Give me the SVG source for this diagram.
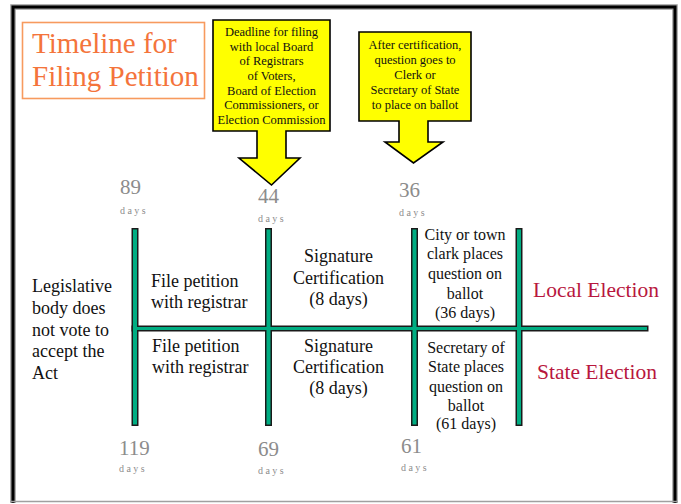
<svg xmlns="http://www.w3.org/2000/svg" width="681" height="504" viewBox="0 0 681 504" font-family="'Liberation Serif', Tinos, 'Times New Roman', Times, 'DejaVu Serif', serif">
<style>
text{font-family:'Liberation Serif', Tinos, 'Times New Roman', Times, 'DejaVu Serif', serif;}
.cell{font-size:18px;fill:#111;}
.small{font-size:16px;fill:#111;}
.note{font-size:12.5px;fill:#111;}
.num{font-size:21px;fill:#8c8c8c;}
.days{font-size:10px;fill:#8c8c8c;letter-spacing:2.4px;}
.elec{font-size:21.5px;fill:#b8173e;}
.callout{fill:#ffff00;stroke:#000;stroke-width:1.6;stroke-linejoin:miter;}
.barout{fill:#1a1a1a;}
.barin{fill:#00ad82;}
</style>
<rect x="0" y="0" width="681" height="504" fill="#fff"/>
<g id="frame">
<path d="M13,503 V7 H675 V503" fill="none" stroke="#9a9a9a" stroke-width="5.5"/>
<path d="M13,503 V7 H675 V503" fill="none" stroke="#000" stroke-width="3"/>
<line x1="10" y1="501.5" x2="678" y2="501.5" stroke="#a0a0a0" stroke-width="1.5"/>
</g>
<g id="title">
<rect x="22.5" y="22.5" width="182" height="76" fill="#fff" stroke="#f79a5e" stroke-width="1.6"/>
<text x="32" y="53" font-size="29" fill="#f4743b">Timeline for</text>
<text x="32" y="86" font-size="29" fill="#f4743b">Filing Petition</text>
</g>
<g id="callout-deadline">
<path class="callout" d="M213,20 H330 V131 H286 V158 H300 L271.5,185 L239,158 H257 V131 H213 Z"/>
<g class="note" text-anchor="middle">
<text x="271.5" y="36">Deadline for filing</text>
<text x="271.5" y="50.5">with local Board</text>
<text x="271.5" y="65">of Registrars</text>
<text x="271.5" y="79.5">of Voters,</text>
<text x="271.5" y="94.5">Board of Election</text>
<text x="271.5" y="109">Commissioners, or</text>
<text x="271.5" y="124">Election Commission</text>
</g>
</g>
<g id="callout-certification">
<path class="callout" d="M359,32 H471 V121 H428 V142 H443 L413.5,163 L385,142 H399 V121 H359 Z"/>
<g class="note" text-anchor="middle">
<text x="415" y="49">After certification,</text>
<text x="415" y="64">question goes to</text>
<text x="415" y="79">Clerk or</text>
<text x="415" y="94">Secretary of State</text>
<text x="415" y="109">to place on ballot</text>
</g>
</g>
<g id="connectors">
<rect class="barout" x="131.5" y="228" width="7" height="198"/>
<rect class="barout" x="265" y="228" width="7" height="198"/>
<rect class="barout" x="411" y="228" width="7" height="198"/>
<rect class="barout" x="515.5" y="228" width="7" height="198"/>
<rect class="barout" x="131.5" y="325.5" width="517" height="6"/>
<rect class="barin" x="133" y="229.5" width="4" height="195"/>
<rect class="barin" x="266.5" y="229.5" width="4" height="195"/>
<rect class="barin" x="412.5" y="229.5" width="4" height="195"/>
<rect class="barin" x="517" y="229.5" width="4" height="195"/>
<rect class="barin" x="133" y="327" width="514" height="3"/>
</g>
<g id="day-labels">
<text class="num" x="120" y="194">89</text>
<text class="days" x="120" y="214">days</text>
<text class="num" x="258" y="203">44</text>
<text class="days" x="258" y="222">days</text>
<text class="num" x="399" y="197">36</text>
<text class="days" x="399" y="216">days</text>
<text class="num" x="119" y="455">119</text>
<text class="days" x="119" y="472">days</text>
<text class="num" x="258" y="456">69</text>
<text class="days" x="258" y="474">days</text>
<text class="num" x="401" y="453">61</text>
<text class="days" x="401" y="471">days</text>
</g>
<g id="legislative">
<text class="cell" x="32" y="292">Legislative</text>
<text class="cell" x="32" y="314">body does</text>
<text class="cell" x="32" y="336">not vote to</text>
<text class="cell" x="32" y="357">accept the</text>
<text class="cell" x="32" y="379">Act</text>
</g>
<g id="file-local">
<text class="cell" x="151" y="287">File petition</text>
<text class="cell" x="151" y="308">with registrar</text>
</g>
<g id="file-state">
<text class="cell" x="152" y="352">File petition</text>
<text class="cell" x="152" y="373">with registrar</text>
</g>
<g id="cert-local" text-anchor="middle">
<text class="cell" x="338.5" y="262">Signature</text>
<text class="cell" x="338.5" y="284">Certification</text>
<text class="cell" x="338.5" y="305">(8 days)</text>
</g>
<g id="cert-state" text-anchor="middle">
<text class="cell" x="338.5" y="352">Signature</text>
<text class="cell" x="338.5" y="373">Certification</text>
<text class="cell" x="338.5" y="394">(8 days)</text>
</g>
<g id="clerk-local" text-anchor="middle">
<text class="small" x="465" y="240">City or town</text>
<text class="small" x="465" y="259">clark places</text>
<text class="small" x="465" y="279">question on</text>
<text class="small" x="465" y="299">ballot</text>
<text class="small" x="465" y="318">(36 days)</text>
</g>
<g id="secretary-state" text-anchor="middle">
<text class="small" x="466" y="353">Secretary of</text>
<text class="small" x="466" y="372">State places</text>
<text class="small" x="466" y="392">question on</text>
<text class="small" x="466" y="411">ballot</text>
<text class="small" x="466" y="429">(61 days)</text>
</g>
<g id="local-election">
<text class="elec" x="533" y="297">Local Election</text>
</g>
<g id="state-election">
<text class="elec" x="537" y="379">State Election</text>
</g>
</svg>
